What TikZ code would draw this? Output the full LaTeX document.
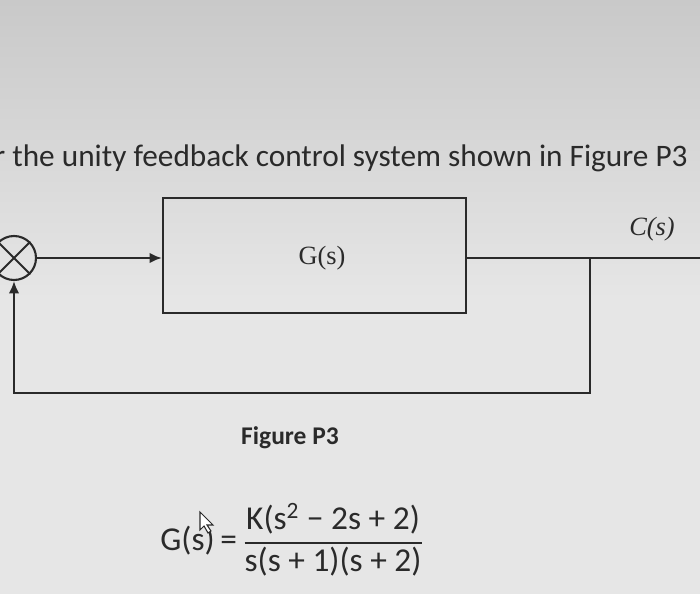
\documentclass[tikz,border=0pt]{standalone}
\usepackage{amsmath}
\usepackage{fontspec}
\setmainfont{Carlito}
\newfontfamily\serifft{Liberation Serif}
\usetikzlibrary{arrows.meta}
\definecolor{bgtop}{HTML}{C9C9C9}
\definecolor{bgbot}{HTML}{E6E6E6}
\definecolor{ink}{HTML}{2A2A2A}
\tikzset{wire/.style={draw=ink,line width=1.2pt},
 tip/.style={-{Latex[length=7pt,width=6pt]}}}
\begin{document}
\begin{tikzpicture}[x=0.02cm,y=-0.02cm]
\useasboundingbox (0,0) rectangle (700,594);
\clip (0,0) rectangle (700,594);
\shade[top color=bgtop,bottom color=bgbot] (0,0) rectangle (700,300);
\fill[bgbot] (0,299) rectangle (700,594);
\node[anchor=west,inner sep=0,text=ink,font=\fontsize{17.8}{20}\selectfont] (title) at (-6,158) {r the unity feedback control system shown in Figure P3};
\node[circle,draw=ink,line width=1.2pt,minimum size=0.88cm,inner sep=0] (sum) at (14,258) {};
\draw[ink,line width=1.2pt] (sum.north west) -- (sum.south east) (sum.north east) -- (sum.south west);
\node[draw=ink,line width=1.4pt,minimum width=6.06cm,minimum height=2.3cm,inner sep=0] (G) at (314.5,255.5) {};
\node[text=ink,font=\serifft\fontsize{15}{17}\selectfont] (Gl) at (322,258) {G(s)};
\coordinate (out) at (700,258);
\coordinate (br) at (590,258);
\coordinate (fb1) at (590,393);
\coordinate (fb2) at (14,393);
\node[text=ink,font=\serifft\itshape\fontsize{15}{17}\selectfont] (Cl) at (652,229) {C(s)};
\draw[wire,tip] (sum.east) -- (sum.east -| G.west);
\draw[wire] (G.east|-br) -- (out);
\draw[wire,tip] (br) -- (fb1) -- (fb2) -- (sum.south);
\node[text=ink,font=\bfseries\fontsize{14.5}{17}\selectfont] (fig) at (290,438) {Figure P3};
\node[text=ink,font=\fontsize{19}{22}\selectfont] (eq) at (292,540) {G(s)\,=\,$\dfrac{\text{K(s\textsuperscript{2} − 2s + 2)}}{\text{s(s + 1)(s + 2)}}$};
\draw[ink,line width=0.6pt,fill=white] (200,512) -- (200,530) -- (204,526) -- (208,533) -- (211,531) -- (207,525) -- (213,525) -- cycle;
\end{tikzpicture}
\end{document}
